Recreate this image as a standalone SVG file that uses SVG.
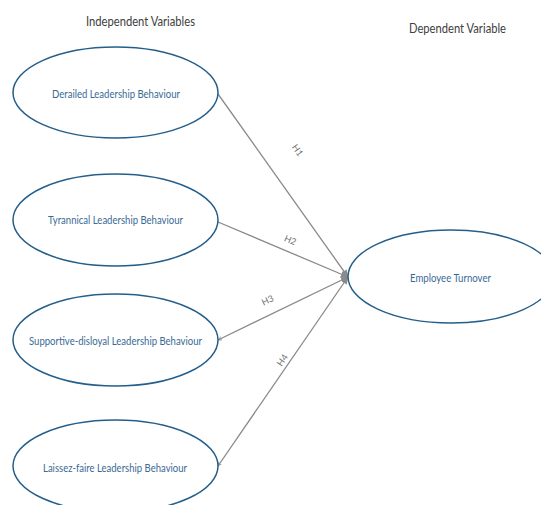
<svg xmlns="http://www.w3.org/2000/svg" width="541" height="505" viewBox="0 0 541 505">
<style>
.title{font-family:Lato,"Liberation Sans",sans-serif;font-size:12.5px;fill:#404040;text-anchor:middle}
.node ellipse{fill:#fff;stroke:#245e8a;stroke-width:1.5}
.node text{font-family:Lato,"Liberation Sans",sans-serif;font-size:10.5px;fill:#3a6a96;text-anchor:middle}
.edge{stroke:#8a8a8a;stroke-width:1.3;fill:none}
.lbl{font-family:Lato,"Liberation Sans",sans-serif;font-size:9px;fill:#707070;text-anchor:middle}
</style>
<defs>
<marker id="arr" viewBox="0 0 10 10" refX="9" refY="5" markerWidth="8" markerHeight="8" markerUnits="userSpaceOnUse" orient="auto">
<path d="M0,1 L10,5 L0,9 Z" fill="#8a8a8a"/>
</marker>
<marker id="tick" viewBox="0 0 10 10" refX="9" refY="5" markerWidth="4.5" markerHeight="4.5" markerUnits="userSpaceOnUse" orient="auto-start-reverse">
<path d="M0,1 L9,5 L0,9" fill="none" stroke="#8a8a8a" stroke-width="1.8"/>
</marker>
</defs>
<rect width="541" height="505" fill="#fff"/>
<text class="title" x="140.5" y="26" textLength="109" lengthAdjust="spacingAndGlyphs">Independent Variables</text>
<text class="title" x="457.5" y="33" textLength="97" lengthAdjust="spacingAndGlyphs">Dependent Variable</text>
<g id="connectors">
<line class="edge" x1="218" y1="94" x2="348" y2="277" marker-end="url(#arr)"/>
<line class="edge" x1="218" y1="222" x2="348" y2="277" marker-end="url(#arr)"/>
<line class="edge" x1="218" y1="340" x2="348" y2="277" marker-end="url(#arr)" marker-start="url(#tick)"/>
<line class="edge" x1="218" y1="466" x2="348" y2="277" marker-end="url(#arr)" marker-start="url(#tick)"/>
<text class="lbl" transform="translate(295,152) rotate(54.5)">H1</text>
<text class="lbl" transform="translate(289,243) rotate(23)">H2</text>
<text class="lbl" transform="translate(269,303) rotate(-26)">H3</text>
<text class="lbl" transform="translate(285,362) rotate(-55.6)">H4</text>
</g>
<g id="n1" class="node">
<ellipse cx="115.5" cy="92.5" rx="102.5" ry="45.5"/>
<text x="116" y="97.5" textLength="128" lengthAdjust="spacingAndGlyphs">Derailed Leadership Behaviour</text>
</g>
<g id="n2" class="node">
<ellipse cx="115.5" cy="220" rx="102.5" ry="46"/>
<text x="115.5" y="224" textLength="135" lengthAdjust="spacingAndGlyphs">Tyrannical Leadership Behaviour</text>
</g>
<g id="n3" class="node">
<ellipse cx="115.5" cy="340" rx="102.5" ry="46"/>
<text x="115.5" y="345" textLength="173" lengthAdjust="spacingAndGlyphs">Supportive-disloyal Leadership Behaviour</text>
</g>
<g id="n4" class="node">
<ellipse cx="115.5" cy="466" rx="102.5" ry="46"/>
<text x="115" y="471.5" textLength="144" lengthAdjust="spacingAndGlyphs">Laissez-faire Leadership Behaviour</text>
</g>
<g id="n5" class="node">
<ellipse cx="451" cy="276.5" rx="103" ry="46.5"/>
<text x="450.5" y="281.5" textLength="81" lengthAdjust="spacingAndGlyphs">Employee Turnover</text>
</g>
</svg>
